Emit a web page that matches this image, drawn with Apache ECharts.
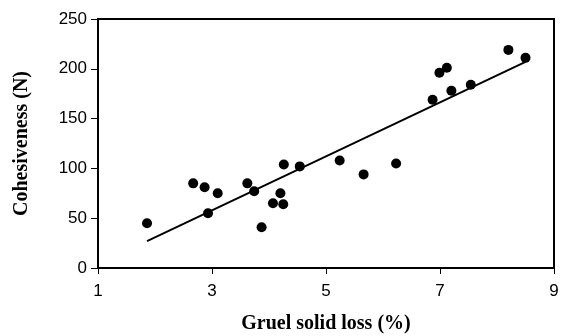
<!DOCTYPE html>
<html>
<head>
<meta charset="utf-8">
<script src="https://cdn.jsdelivr.net/npm/echarts@6/dist/echarts.min.js"></script>
<style>
  html, body { margin: 0; padding: 0; background: #fff; }
  #chart { width: 561px; height: 336px; }
</style>
</head>
<body>
<div id="chart"></div>
<script>
// gruel solid loss (%) vs cohesiveness (N)
const solidLoss = [1.86, 2.67, 2.87, 3.10, 2.93, 3.62, 3.74, 3.87, 4.07, 4.20, 4.25, 4.26, 4.54,
  5.24, 5.66, 6.23, 6.87, 6.99, 7.12, 7.20, 7.54, 8.20, 8.50];
const cohesiveness = [45, 85, 81, 75, 55, 85, 77, 41, 65, 75, 64, 104, 102,
  108, 94, 105, 169, 196, 201, 178, 184, 219, 211];
const trendX = [1.86, 8.5];
const trendY = [27, 207];

const chart = echarts.init(document.getElementById("chart"));

const labelFont = { color: "#000", fontSize: 17, fontFamily: "Liberation Sans, Arial, sans-serif" };
const nameFont = { color: "#000", fontSize: 20, fontWeight: "bold", fontFamily: "Liberation Serif, Times New Roman, serif" };

const option = {
  animation: false,
  grid: {
    left: 98, right: 7, top: 19, bottom: 68,
    outerBoundsMode: "none",
    show: true, borderColor: "#000", borderWidth: 2, backgroundColor: "#fff"
  },
  xAxis: {
    type: "value", min: 1, max: 9, interval: 2,
    name: "Gruel solid loss (%)", nameLocation: "middle", nameGap: 46,
    nameTextStyle: nameFont,
    axisLine: { lineStyle: { color: "#000", width: 2 } },
    axisTick: { show: true, length: 6, lineStyle: { color: "#000" } },
    axisLabel: Object.assign({ margin: 15 }, labelFont),
    splitLine: { show: false }
  },
  yAxis: {
    type: "value", min: 0, max: 250, interval: 50,
    name: "Cohesiveness (N)", nameLocation: "middle", nameGap: 66,
    nameTextStyle: nameFont,
    axisLine: { show: true, lineStyle: { color: "#000", width: 2 } },
    axisTick: { show: true, length: 7, lineStyle: { color: "#000" } },
    axisLabel: Object.assign({ margin: 11 }, labelFont),
    splitLine: { show: false }
  },
  series: [
    {
      type: "line",
      data: trendX.map((x, i) => [x, trendY[i]]),
      symbol: "none",
      lineStyle: { color: "#000", width: 2 },
      z: 2
    },
    {
      type: "scatter",
      data: solidLoss.map((x, i) => [x, cohesiveness[i]]),
      symbol: "circle",
      symbolSize: 10,
      itemStyle: { color: "#000", opacity: 1 },
      z: 3
    }
  ]
};

chart.setOption(option);
</script>
</body>
</html>
